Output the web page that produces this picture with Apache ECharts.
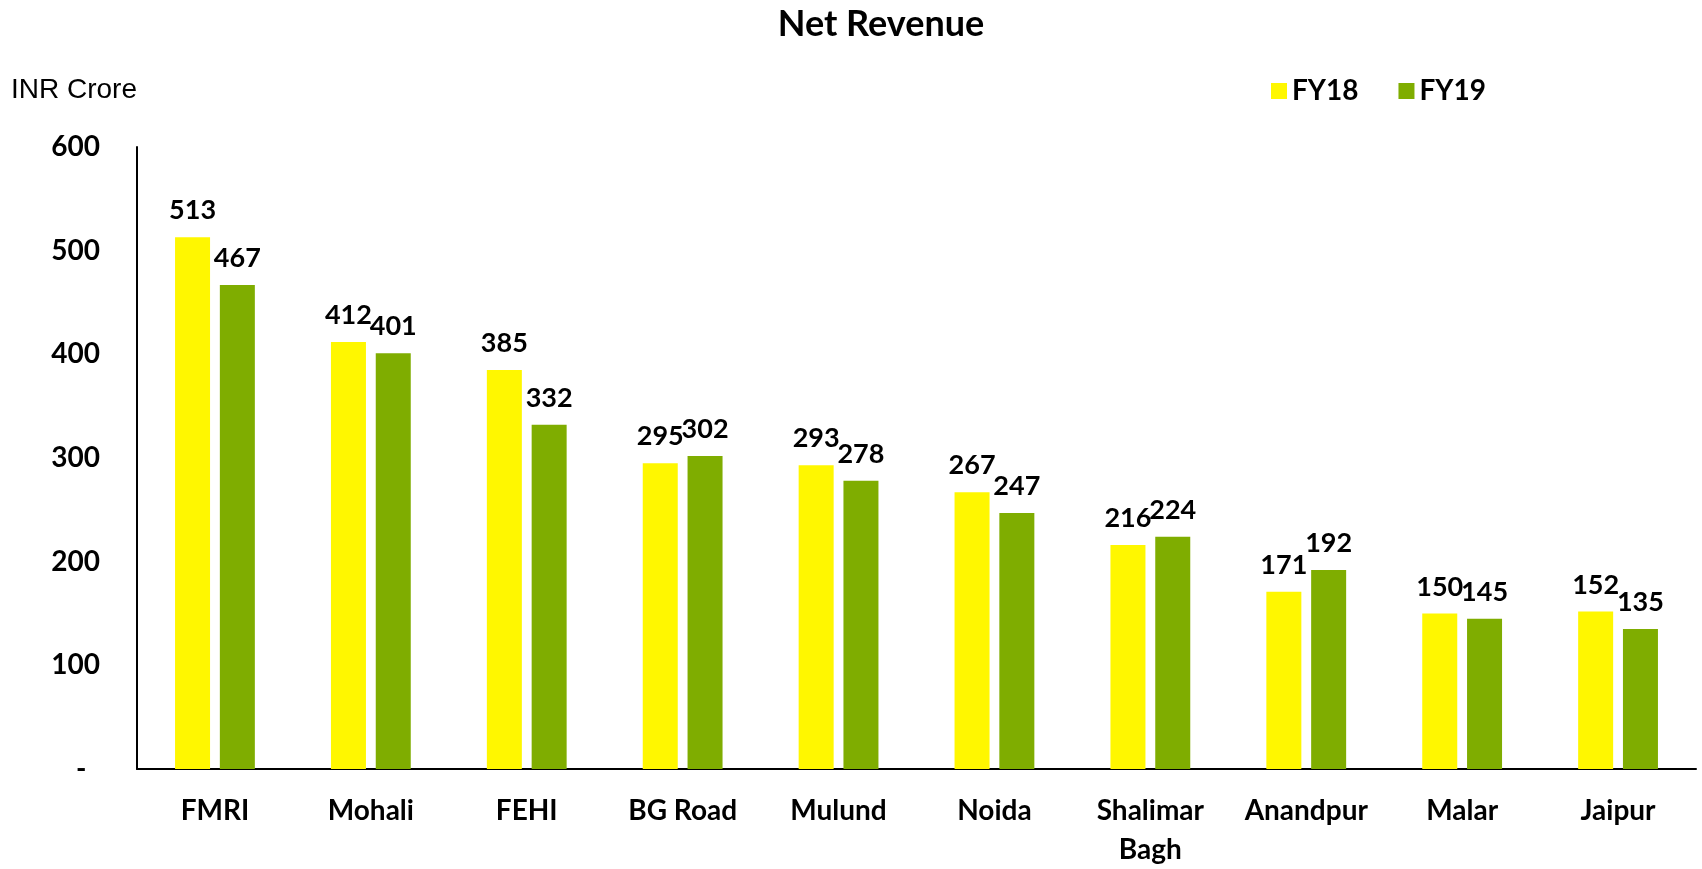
<!DOCTYPE html>
<html>
<head>
<meta charset="utf-8">
<title>Net Revenue</title>
<script src="https://cdn.jsdelivr.net/npm/echarts@6/dist/echarts.min.js"></script>
<style>
html, body {
	margin: 0;
	padding: 0;
	background: #fff;
}
#chart {
	width: 1702px;
	height: 869px;
}
</style>
</head>
<body>
<div id="chart"></div>
<script>
// hospital names, two lines for Shalimar Bagh as in the source
const hospitals = ['FMRI', 'Mohali', 'FEHI', 'BG Road', 'Mulund', 'Noida', 'Shalimar\nBagh', 'Anandpur', 'Malar', 'Jaipur'];
const fy18 = [513, 412, 385, 295, 293, 267, 216, 171, 150, 152];
const fy19 = [467, 401, 332, 302, 278, 247, 224, 192, 145, 135];
const yTicks = [0, 100, 200, 300, 400, 500, 600];

const font = 'Lato, "Noto Sans", sans-serif';
const yellow = '#FFF700';
const green = '#7FAD00';

const chart = echarts.init(document.getElementById('chart'));

const labelStyle = {
	show: true,
	position: 'top',
	distance: 13,
	color: '#000',
	fontFamily: font,
	fontWeight: 'bold',
	fontSize: 27
};

chart.setOption({
	animation: false,
	graphic: [{
		type: 'text',
		x: 881,
		y: 6,
		style: {
			text: 'Net Revenue',
			textAlign: 'center',
			fontFamily: font,
			fontWeight: 'bold',
			fontSize: 36,
			fill: '#000'
		}
	}, {
		type: 'text',
		left: 11,
		top: 76,
		style: {
			text: 'INR Crore',
			fontFamily: '"Liberation Sans", Arial, sans-serif',
			fontSize: 28,
			fill: '#000'
		}
	}],
	legend: {
		left: 1266,
		top: 72,
		icon: 'rect',
		itemWidth: 16,
		itemHeight: 16,
		itemGap: 40,
		textStyle: {
			fontFamily: font,
			fontWeight: 'bold',
			fontSize: 28,
			color: '#000'
		},
		data: ['FY18', 'FY19']
	},
	grid: {
		left: 137,
		right: 6,
		top: 147,
		bottom: 97
	},
	xAxis: {
		type: 'category',
		data: hospitals,
		axisLine: { lineStyle: { color: '#000', width: 2 } },
		axisTick: { show: false },
		axisLabel: {
			margin: 22,
			interval: 0,
			color: '#000',
			fontFamily: font,
			fontWeight: 'bold',
			fontSize: 28,
			lineHeight: 39
		}
	},
	yAxis: {
		type: 'value',
		min: yTicks[0],
		max: yTicks[yTicks.length - 1],
		interval: yTicks[1] - yTicks[0],
		axisLine: { show: true, lineStyle: { color: '#000', width: 2 } },
		axisTick: { show: false },
		splitLine: { show: false },
		axisLabel: {
			margin: 37,
			color: '#000',
			fontFamily: font,
			fontWeight: 'bold',
			fontSize: 28,
			formatter: v => v === 0 ? '-  ' : String(v)
		}
	},
	series: [
		{
			name: 'FY18',
			type: 'bar',
			data: fy18,
			barWidth: 35,
			barGap: '28%',
			itemStyle: { color: yellow },
			label: labelStyle
		},
		{
			name: 'FY19',
			type: 'bar',
			data: fy19,
			barWidth: 35,
			itemStyle: { color: green },
			label: labelStyle
		}
	]
});
</script>
</body>
</html>
